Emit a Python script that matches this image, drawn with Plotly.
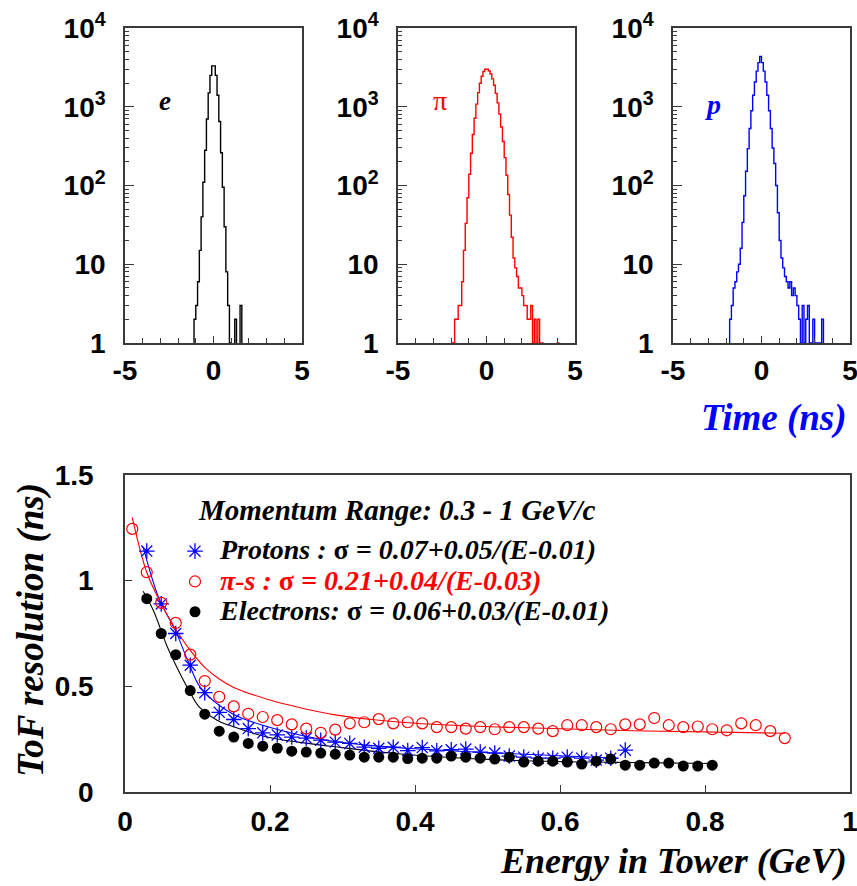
import numpy as np
import plotly.graph_objects as go

W, H = 857, 886

# ---------------- Top: time-of-flight histograms (counts per 0.1 ns bin) ----------------
time_bin_low = -2.0
time_bin_width = 0.1
e_counts = [0, 0, 0, 0, 0, 0, 0, 0, 0,
            2, 3, 6, 15, 40, 110, 280, 700, 1500, 2500, 3300,
            3300, 2500, 1400, 650, 260, 95, 30, 8, 3, 1,
            0, 0, 2, 0, 0, 3,
            0, 0, 0, 0, 0, 0, 0, 0, 0, 0, 0, 0, 0, 0, 0, 0, 0, 0, 0, 0, 0, 0, 0, 0, 0, 0]
pi_counts = [1, 1, 2, 2, 3, 3, 6, 15, 33, 70, 139, 257, 444, 716, 1080, 1510, 1990, 2440, 2800, 2990,
             3000, 2870, 2600, 2260, 1875, 1480, 1120, 805, 553, 362, 226, 135, 77, 42, 22, 12,
             9, 7, 5, 5, 4, 3, 3, 2, 2, 3, 1, 2, 1, 2, 1, 1,
             0, 0, 0, 0, 0, 0, 0, 0, 1, 0]
p_counts = [0, 0, 2, 3, 5, 6, 8, 10, 16, 34, 74, 152, 294, 530, 890, 1400, 2060, 2830, 3630, 4360,
            3630, 2830, 2060, 1400, 890, 530, 300, 190, 100, 45, 20, 12, 9, 7, 6, 5,
            6, 4, 5, 4, 3, 2, 1, 3, 1, 2, 3, 1, 1, 2, 1, 1, 1, 1, 2,
            0, 0, 0, 0, 0, 0, 0]

# ---------------- Bottom: ToF resolution vs energy ----------------
p_E = [0.03, 0.05, 0.07, 0.09, 0.11, 0.13, 0.15, 0.17, 0.19, 0.21, 0.23, 0.25, 0.27, 0.29, 0.31, 0.33, 0.35,
       0.37, 0.39, 0.41, 0.43, 0.45, 0.47, 0.49, 0.51, 0.53, 0.55, 0.57, 0.59, 0.61, 0.63, 0.65, 0.67, 0.69]
p_sigma = [1.14, 0.89, 0.75, 0.60, 0.47, 0.377, 0.343, 0.30, 0.28, 0.27, 0.26, 0.255, 0.245, 0.236, 0.23, 0.212, 0.207,
           0.212, 0.196, 0.21, 0.195, 0.20, 0.203, 0.189, 0.184, 0.17, 0.165, 0.16, 0.16, 0.165, 0.16, 0.151, 0.16, 0.198]

pi_E = [0.01, 0.03, 0.05, 0.07, 0.09, 0.11, 0.13, 0.15, 0.17, 0.19, 0.21, 0.23, 0.25, 0.27, 0.29, 0.31, 0.33,
        0.35, 0.37, 0.39, 0.41, 0.43, 0.45, 0.47, 0.49, 0.51, 0.53, 0.55, 0.57, 0.59, 0.61, 0.63, 0.65, 0.67,
        0.69, 0.71, 0.73, 0.75, 0.77, 0.79, 0.81, 0.83, 0.85, 0.87, 0.89, 0.91]
pi_sigma = [1.245, 1.04, 0.895, 0.80, 0.65, 0.525, 0.45, 0.405, 0.37, 0.355, 0.34, 0.32, 0.30, 0.28, 0.295, 0.325, 0.33,
            0.345, 0.325, 0.33, 0.325, 0.307, 0.307, 0.30, 0.307, 0.297, 0.307, 0.307, 0.30, 0.288, 0.316, 0.316, 0.307, 0.297,
            0.32, 0.32, 0.35, 0.316, 0.307, 0.31, 0.297, 0.292, 0.325, 0.316, 0.288, 0.255]

e_E = [0.03, 0.05, 0.07, 0.09, 0.11, 0.13, 0.15, 0.17, 0.19, 0.21, 0.23, 0.25, 0.27, 0.29, 0.31, 0.33, 0.35,
       0.37, 0.39, 0.41, 0.43, 0.45, 0.47, 0.49, 0.51, 0.53, 0.55, 0.57, 0.59, 0.61, 0.63, 0.65, 0.67, 0.69,
       0.71, 0.73, 0.75, 0.77, 0.79, 0.81]
e_sigma = [0.915, 0.75, 0.65, 0.48, 0.368, 0.288, 0.26, 0.23, 0.217, 0.207, 0.193, 0.189, 0.184, 0.179, 0.175, 0.165, 0.165,
           0.165, 0.158, 0.16, 0.16, 0.17, 0.165, 0.16, 0.156, 0.165, 0.142, 0.146, 0.146, 0.142, 0.132, 0.146, 0.156, 0.127,
           0.127, 0.137, 0.137, 0.123, 0.123, 0.127]

# fit curves as drawn
p_fit_E = [0.025, 0.047, 0.07, 0.088, 0.105, 0.148, 0.196, 0.241, 0.287, 0.334, 0.40, 0.517, 0.68]
p_fit_s = [1.16, 0.915, 0.76, 0.61, 0.49, 0.37, 0.31, 0.27, 0.24, 0.222, 0.205, 0.184, 0.16]
pi_fit_E = [0.01, 0.03, 0.05, 0.07, 0.09, 0.11, 0.13, 0.15, 0.20, 0.24, 0.29, 0.34, 0.40, 0.52, 0.70, 0.91]
pi_fit_s = [1.30, 1.04, 0.89, 0.77, 0.67, 0.59, 0.535, 0.495, 0.435, 0.40, 0.365, 0.343, 0.325, 0.307, 0.29, 0.278]
e_fit_E = [0.025, 0.039, 0.058, 0.076, 0.09, 0.103, 0.127, 0.149, 0.196, 0.241, 0.287, 0.38, 0.517, 0.68, 0.81]
e_fit_s = [0.95, 0.86, 0.69, 0.56, 0.47, 0.40, 0.34, 0.31, 0.26, 0.235, 0.215, 0.18, 0.152, 0.14, 0.135]

RED = "#ff0000"
BLUE = "#0000ff"
BLACK = "#000000"
AXC = "#3a3a3a"
serif = "Liberation Serif"

fig = go.Figure()

def step_xy(counts):
    n = len(counts)
    edges = time_bin_low + time_bin_width * np.arange(n + 1)
    y = [c if c > 0 else 0.1 for c in counts]
    y = y + [y[-1]]
    return edges, y

for i, (counts, col) in enumerate([(e_counts, BLACK), (pi_counts, RED), (p_counts, BLUE)]):
    xs, ys = step_xy(counts)
    sfx = "" if i == 0 else str(i + 1)
    fig.add_trace(go.Scatter(x=xs, y=ys, mode="lines", line=dict(color=col, width=1.4, shape="hv"),
                             xaxis="x" + sfx, yaxis="y" + sfx, showlegend=False, hoverinfo="skip"))

for fx, fy, col in [(p_fit_E, p_fit_s, BLUE), (pi_fit_E, pi_fit_s, RED), (e_fit_E, e_fit_s, BLACK)]:
    fig.add_trace(go.Scatter(x=fx, y=fy, mode="lines", line=dict(color=col, width=1.1, shape="spline", smoothing=1.0),
                             xaxis="x4", yaxis="y4", showlegend=False, hoverinfo="skip"))

LS = "font-size:28px"
fig.add_trace(go.Scatter(x=p_E, y=p_sigma, mode="markers", xaxis="x4", yaxis="y4",
                         marker=dict(symbol="asterisk-open", size=13, color=BLUE, line=dict(color=BLUE, width=1.3)),
                         name=f"<span style='{LS}'><b><i>Protons : </i>σ<i> = 0.07+0.05/(E-0.01)</i></b></span>"))
fig.add_trace(go.Scatter(x=pi_E, y=pi_sigma, mode="markers", xaxis="x4", yaxis="y4",
                         marker=dict(symbol="circle-open", size=11, color=RED, line=dict(color=RED, width=1.2)),
                         name=f"<span style='{LS};color:#ff0000'><b><i>π-s : </i>σ<i> = 0.21+0.04/(E-0.03)</i></b></span>"))
fig.add_trace(go.Scatter(x=e_E, y=e_sigma, mode="markers", xaxis="x4", yaxis="y4",
                         marker=dict(symbol="circle", size=11, color=BLACK),
                         name=f"<span style='{LS}'><b><i>Electrons: </i>σ<i> = 0.06+0.03/(E-0.01)</i></b></span>"))

tickfont = dict(family="Liberation Sans", size=28, color=BLACK, weight="bold")
top_dom_y = [1 - 343 / H, 1 - 28 / H]
bot_dom_y = [1 - 792 / H, 1 - 475 / H]
panel_x = [(125, 302), (398, 575), (673, 850)]

log_minor = [m * 10 ** k for k in range(4) for m in range(2, 10)]

layout = dict(width=W, height=H, margin=dict(l=0, r=0, t=0, b=0, pad=0, autoexpand=False),
              paper_bgcolor="white", plot_bgcolor="white", showlegend=True)

for i, (x0, x1) in enumerate(panel_x):
    sfx = "" if i == 0 else str(i + 1)
    layout["xaxis" + sfx] = dict(domain=[x0 / W, x1 / W], range=[-5, 5], anchor="y" + sfx, automargin=False,
                                 showline=True, mirror=True, linecolor=AXC, linewidth=1.5,
                                 showgrid=False, zeroline=False, ticklabeloverflow="allow",
                                 tickvals=[-5, 0, 5], ticktext=["-5", "0", "5"], ticks="inside", ticklen=7,
                                 tickcolor=AXC, tickfont=tickfont, ticklabelstandoff=2,
                                 minor=dict(dtick=1, ticks="inside", ticklen=5, tickcolor=AXC, showgrid=False))
    layout["yaxis" + sfx] = dict(domain=top_dom_y, type="log", range=[0, 4], anchor="x" + sfx, automargin=False,
                                 showline=True, mirror=True, linecolor=AXC, linewidth=1.5,
                                 showgrid=False, zeroline=False, ticklabeloverflow="allow",
                                 tickvals=[1, 10, 100, 1000, 10000],
                                 ticktext=["1", "10", "10<sup>2</sup>", "10<sup>3</sup>", "10<sup>4</sup>"],
                                 ticks="inside", ticklen=9, tickcolor=AXC, tickfont=tickfont, ticklabelstandoff=12,
                                 minor=dict(tickvals=log_minor, ticks="inside", ticklen=4, tickcolor=AXC, showgrid=False))

layout["xaxis4"] = dict(domain=[125 / W, 850 / W], range=[0, 1], anchor="y4", automargin=False,
                        showline=True, mirror=True, linecolor=AXC, linewidth=1.5, showgrid=False, zeroline=False,
                        ticklabeloverflow="allow",
                        tickvals=[0, 0.2, 0.4, 0.6, 0.8, 1], ticktext=["0", "0.2", "0.4", "0.6", "0.8", "1"],
                        ticks="inside", ticklen=7, tickcolor=AXC, tickfont=tickfont, ticklabelstandoff=4)
layout["yaxis4"] = dict(domain=bot_dom_y, range=[0, 1.5], anchor="x4", automargin=False,
                        showline=True, mirror=True, linecolor=AXC, linewidth=1.5, showgrid=False, zeroline=False,
                        ticklabeloverflow="allow",
                        tickvals=[0, 0.5, 1, 1.5], ticktext=["0", "0.5", "1", "1.5"],
                        ticks="inside", ticklen=7, tickcolor=AXC, tickfont=tickfont, ticklabelstandoff=24)

layout["legend"] = dict(x=170 / W, y=1 - 531 / H, xanchor="left", yanchor="top",
                        bgcolor="rgba(0,0,0,0)", borderwidth=0,
                        font=dict(family=serif, size=21, color=BLACK),
                        itemwidth=40, tracegroupgap=0)

fig.update_layout(**layout)

ann = [
    dict(text="<b><i>e</i></b>", x=165 / W, y=1 - 101 / H, font=dict(family=serif, size=27, color=BLACK)),
    dict(text="π", x=440 / W, y=1 - 101 / H, font=dict(family=serif, size=28, color=RED)),
    dict(text="<b><i>p</i></b>", x=713 / W, y=1 - 104 / H, font=dict(family=serif, size=28, color=BLUE)),
    dict(text="<b><i>Time (ns)</i></b>", x=849 / W, y=1 - 418 / H, xanchor="right",
         font=dict(family=serif, size=37, color=BLUE)),
    dict(text="<b><i>Energy in Tower (GeV)</i></b>", x=849 / W, y=1 - 861 / H, xanchor="right",
         font=dict(family=serif, size=36, color=BLACK)),
    dict(text="<b><i>ToF resolution (ns)</i></b>", x=31 / W, y=1 - 630 / H, textangle=-90,
         font=dict(family=serif, size=37, color=BLACK)),
    dict(text="<b><i>Momentum Range: 0.3 - 1 GeV/c</i></b>", x=196 / W, y=1 - 510 / H, xanchor="left",
         font=dict(family=serif, size=29, color=BLACK)),
]
for a in ann:
    a.setdefault("xanchor", "center")
    a.setdefault("yanchor", "middle")
    a.update(xref="paper", yref="paper", showarrow=False)
fig.update_layout(annotations=ann)

fig.write_html("out.html", config={"displayModeBar": False},
               post_script="document.body.style.margin='0px';document.body.style.overflow='hidden';")
